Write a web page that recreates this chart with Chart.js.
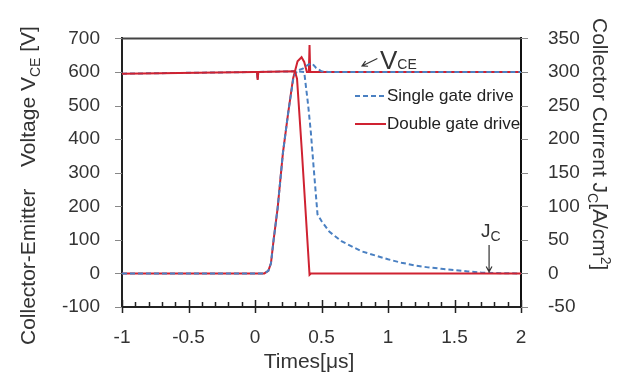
<!DOCTYPE html>
<html>
<head>
<meta charset="utf-8">
<script src="https://cdn.jsdelivr.net/npm/chart.js@4"></script>
<style>
  html, body { margin: 0; padding: 0; background: #fff; }
  #wrap { width: 630px; height: 374px; }
</style>
</head>
<body>
<div id="wrap"><canvas id="chart" width="630" height="374"></canvas></div>
<script>
// time axis [us]
const xMin = -1, xMax = 2, xStep = 0.5;
const vMin = -100, vMax = 700, vStep = 100;
const jMin = -50, jMax = 350, jStep = 50;

// single gate drive, V_CE [V]
const tVceSingle = [-1, 0.07, 0.1, 0.12, 0.14, 0.17, 0.21, 0.25, 0.29, 0.32, 0.36, 0.4, 0.43, 0.46, 0.5, 0.55, 2];
const vceSingle  = [0, 0, 8, 30, 100, 194, 359, 480, 585, 605, 610, 622, 625, 612, 602, 600, 600];

// single gate drive, J_C [A/cm2]
const tJcSingle = [-1, 0, 0.015, 0.02, 0.025, 0.3, 0.37, 0.4, 0.42, 0.44, 0.47, 0.5, 0.56, 0.65, 0.8, 1.0, 1.1, 1.2, 1.3, 1.4, 1.5, 1.6, 1.7, 1.8, 2];
const jcSingle  = [297.5, 300, 300, 288, 300, 301, 300, 250, 210, 160, 88, 78, 62, 48, 33, 21, 16, 12, 9, 7, 5, 3, 1.5, 0.5, 0];

// double gate drive, V_CE [V]
const tVceDouble = [-1, 0.07, 0.1, 0.12, 0.14, 0.17, 0.21, 0.25, 0.286, 0.32, 0.35, 0.37, 0.39, 0.405, 0.41, 0.415, 0.43, 2];
const vceDouble  = [0, 0, 8, 30, 100, 194, 359, 480, 580, 632, 644, 630, 600, 600, 680, 600, 600, 600];

// double gate drive, J_C [A/cm2]
const tJcDouble = [-1, 0, 0.015, 0.02, 0.025, 0.3, 0.316, 0.353, 0.41, 0.42, 2];
const jcDouble  = [297.5, 300, 300, 288, 300, 301, 290, 180, -2, 0, 0];

const seriesNames = ['Single gate drive', 'Double gate drive'];

const RED = '#cf2231';
const BLUE = '#4a80c2';
const TEXT = '#333333';
const FONT = '"Liberation Sans", Arial, sans-serif';

function toPoints(xs, ys) {
    return xs.map((x, i) => ({ x: x, y: ys[i] }));
}

// plain number labels: -1, -0.5, 0 ...
function plainTick(value) {
    return String(Math.round(value * 10) / 10);
}

// rotated / plain text made of runs (normal, sub, sup)
function drawRuns(ctx, runs, x, y, angle, align) {
    ctx.save();
    ctx.translate(x, y);
    ctx.rotate(angle);
    ctx.textBaseline = 'alphabetic';
    ctx.textAlign = 'left';
    let total = 0;
    runs.forEach(r => {
        ctx.font = r.size + 'px ' + FONT;
        r.w = ctx.measureText(r.text).width;
        total += r.w;
    });
    let cx = align === 'center' ? -total / 2 : 0;
    runs.forEach(r => {
        ctx.font = r.size + 'px ' + FONT;
        ctx.fillStyle = TEXT;
        ctx.fillText(r.text, cx, r.dy || 0);
        cx += r.w;
    });
    ctx.restore();
}

function arrow(ctx, x1, y1, x2, y2) {
    const a = Math.atan2(y2 - y1, x2 - x1);
    ctx.save();
    ctx.strokeStyle = '#333';
    ctx.lineWidth = 1.2;
    ctx.beginPath();
    ctx.moveTo(x1, y1);
    ctx.lineTo(x2, y2);
    ctx.moveTo(x2 - 6 * Math.cos(a - 0.5), y2 - 6 * Math.sin(a - 0.5));
    ctx.lineTo(x2, y2);
    ctx.lineTo(x2 - 6 * Math.cos(a + 0.5), y2 - 6 * Math.sin(a + 0.5));
    ctx.stroke();
    ctx.restore();
}

const decorations = {
    id: 'decorations',
    afterDraw(chart) {
        const ctx = chart.ctx;
        const area = chart.chartArea;
        const sx = chart.scales.x, sy = chart.scales.y, sj = chart.scales.y2;

        // frame top
        ctx.save();
        ctx.strokeStyle = '#444';
        ctx.lineWidth = 2;
        ctx.beginPath();
        ctx.moveTo(area.left, area.top);
        ctx.lineTo(area.right, area.top);
        ctx.stroke();

        // x tick marks: minor every 0.1 inside, major every 0.5 crossing
        ctx.strokeStyle = '#222';
        ctx.lineWidth = 1.5;
        ctx.beginPath();
        for (let i = 0; i <= 30; i++) {
            const v = xMin + i * 0.1;
            const px = Math.round(sx.getPixelForValue(v)) + 0.5;
            if (i % 5 === 0) {
                ctx.moveTo(px, area.bottom - 7);
                ctx.lineTo(px, area.bottom + 6);
            } else {
                ctx.moveTo(px, area.bottom - 5);
                ctx.lineTo(px, area.bottom);
            }
        }
        ctx.stroke();

        // y tick marks, outside
        ctx.strokeStyle = '#888';
        ctx.lineWidth = 1;
        ctx.beginPath();
        for (let v = vMin; v <= vMax; v += vStep) {
            const py = Math.round(sy.getPixelForValue(v)) + 0.5;
            ctx.moveTo(area.left - 7, py);
            ctx.lineTo(area.left, py);
        }
        for (let v = jMin; v <= jMax; v += jStep) {
            const py = Math.round(sj.getPixelForValue(v)) + 0.5;
            ctx.moveTo(area.right, py);
            ctx.lineTo(area.right + 7, py);
        }
        ctx.stroke();
        ctx.restore();

        // legend
        const lx = 355, ly = [96, 124];
        ctx.save();
        ctx.lineWidth = 2;
        ctx.strokeStyle = BLUE;
        ctx.setLineDash([5, 3]);
        ctx.beginPath();
        ctx.moveTo(lx, ly[0]);
        ctx.lineTo(lx + 31, ly[0]);
        ctx.stroke();
        ctx.setLineDash([]);
        ctx.strokeStyle = RED;
        ctx.beginPath();
        ctx.moveTo(lx, ly[1]);
        ctx.lineTo(lx + 31, ly[1]);
        ctx.stroke();
        ctx.font = '17px ' + FONT;
        ctx.fillStyle = '#222';
        ctx.textBaseline = 'middle';
        ctx.fillText(seriesNames[0], lx + 32, ly[0]);
        ctx.fillText(seriesNames[1], lx + 32, ly[1]);
        ctx.restore();

        // V_CE label with arrow
        arrow(ctx, sx.getPixelForValue(0.92), sy.getPixelForValue(640),
                   sx.getPixelForValue(0.805), sy.getPixelForValue(618));
        drawRuns(ctx, [
            { text: 'V', size: 26 },
            { text: 'CE', size: 14, dy: 0 }
        ], sx.getPixelForValue(0.94), sy.getPixelForValue(608), 0, 'left');

        // J_C label with arrow
        drawRuns(ctx, [
            { text: 'J', size: 19 },
            { text: 'C', size: 14, dy: 4 }
        ], sx.getPixelForValue(1.7), sy.getPixelForValue(108), 0, 'left');
        arrow(ctx, sx.getPixelForValue(1.76), sy.getPixelForValue(85),
                   sx.getPixelForValue(1.76), sy.getPixelForValue(5));

        // axis titles
        drawRuns(ctx, [
            { text: 'Collector-Emitter', size: 21 }
        ], 35, 345, -Math.PI / 2, 'left');
        drawRuns(ctx, [
            { text: 'Voltage V', size: 21 },
            { text: 'CE', size: 14, dy: 5 },
            { text: ' [V]', size: 21 }
        ], 35, 167, -Math.PI / 2, 'left');
        drawRuns(ctx, [
            { text: 'Collector Current J', size: 21 },
            { text: 'C', size: 14, dy: 5 },
            { text: '[A/cm', size: 21 },
            { text: '2', size: 14, dy: -8 },
            { text: ']', size: 21 }
        ], 593, 18, Math.PI / 2, 'left');
        drawRuns(ctx, [
            { text: 'Times[\u03bcs]', size: 21 }
        ], 309, 368, 0, 'center');
    }
};

new Chart(document.getElementById('chart').getContext('2d'), {
    type: 'line',
    data: {
        datasets: [
            {
                label: seriesNames[1] + ' J_C',
                data: toPoints(tJcDouble, jcDouble),
                yAxisID: 'y2',
                borderColor: RED,
                borderWidth: 2,
                order: 0
            },
            {
                label: seriesNames[0] + ' V_CE',
                data: toPoints(tVceSingle, vceSingle),
                yAxisID: 'y',
                borderColor: BLUE,
                borderWidth: 2,
                borderDash: [5, 3],
                order: 1
            },
            {
                label: seriesNames[1] + ' V_CE',
                data: toPoints(tVceDouble, vceDouble),
                yAxisID: 'y',
                borderColor: RED,
                borderWidth: 2,
                order: 2
            },
            {
                label: seriesNames[0] + ' J_C',
                data: toPoints(tJcSingle, jcSingle),
                yAxisID: 'y2',
                borderColor: BLUE,
                borderWidth: 2,
                borderDash: [5, 3],
                order: 3
            }
        ]
    },
    options: {
        responsive: false,
        animation: false,
        events: [],
        layout: { padding: { top: 17, left: 0, right: 0, bottom: 0 } },
        elements: {
            point: { radius: 0 },
            line: { tension: 0, fill: false }
        },
        plugins: {
            legend: { display: false },
            tooltip: { enabled: false }
        },
        scales: {
            x: {
                type: 'linear',
                min: xMin,
                max: xMax,
                afterFit(scale) { scale.height = 67; },
                grid: { display: false, drawTicks: false },
                border: { display: true, color: '#222', width: 2 },
                ticks: {
                    stepSize: xStep,
                    padding: 19,
                    color: TEXT,
                    font: { family: FONT, size: 19 },
                    maxRotation: 0,
                    callback: plainTick
                }
            },
            y: {
                position: 'left',
                min: vMin,
                max: vMax,
                afterFit(scale) { scale.width = 122; },
                grid: { display: false, drawTicks: false },
                border: { display: true, color: '#222', width: 2 },
                ticks: {
                    stepSize: vStep,
                    padding: 22,
                    color: TEXT,
                    font: { family: FONT, size: 19 },
                    callback: plainTick
                }
            },
            y2: {
                position: 'right',
                min: jMin,
                max: jMax,
                afterFit(scale) { scale.width = 109; },
                grid: { display: false, drawTicks: false },
                border: { display: true, color: '#111', width: 2 },
                ticks: {
                    stepSize: jStep,
                    padding: 27,
                    color: TEXT,
                    font: { family: FONT, size: 19 },
                    callback: plainTick
                }
            }
        }
    },
    plugins: [decorations]
});
</script>
</body>
</html>
